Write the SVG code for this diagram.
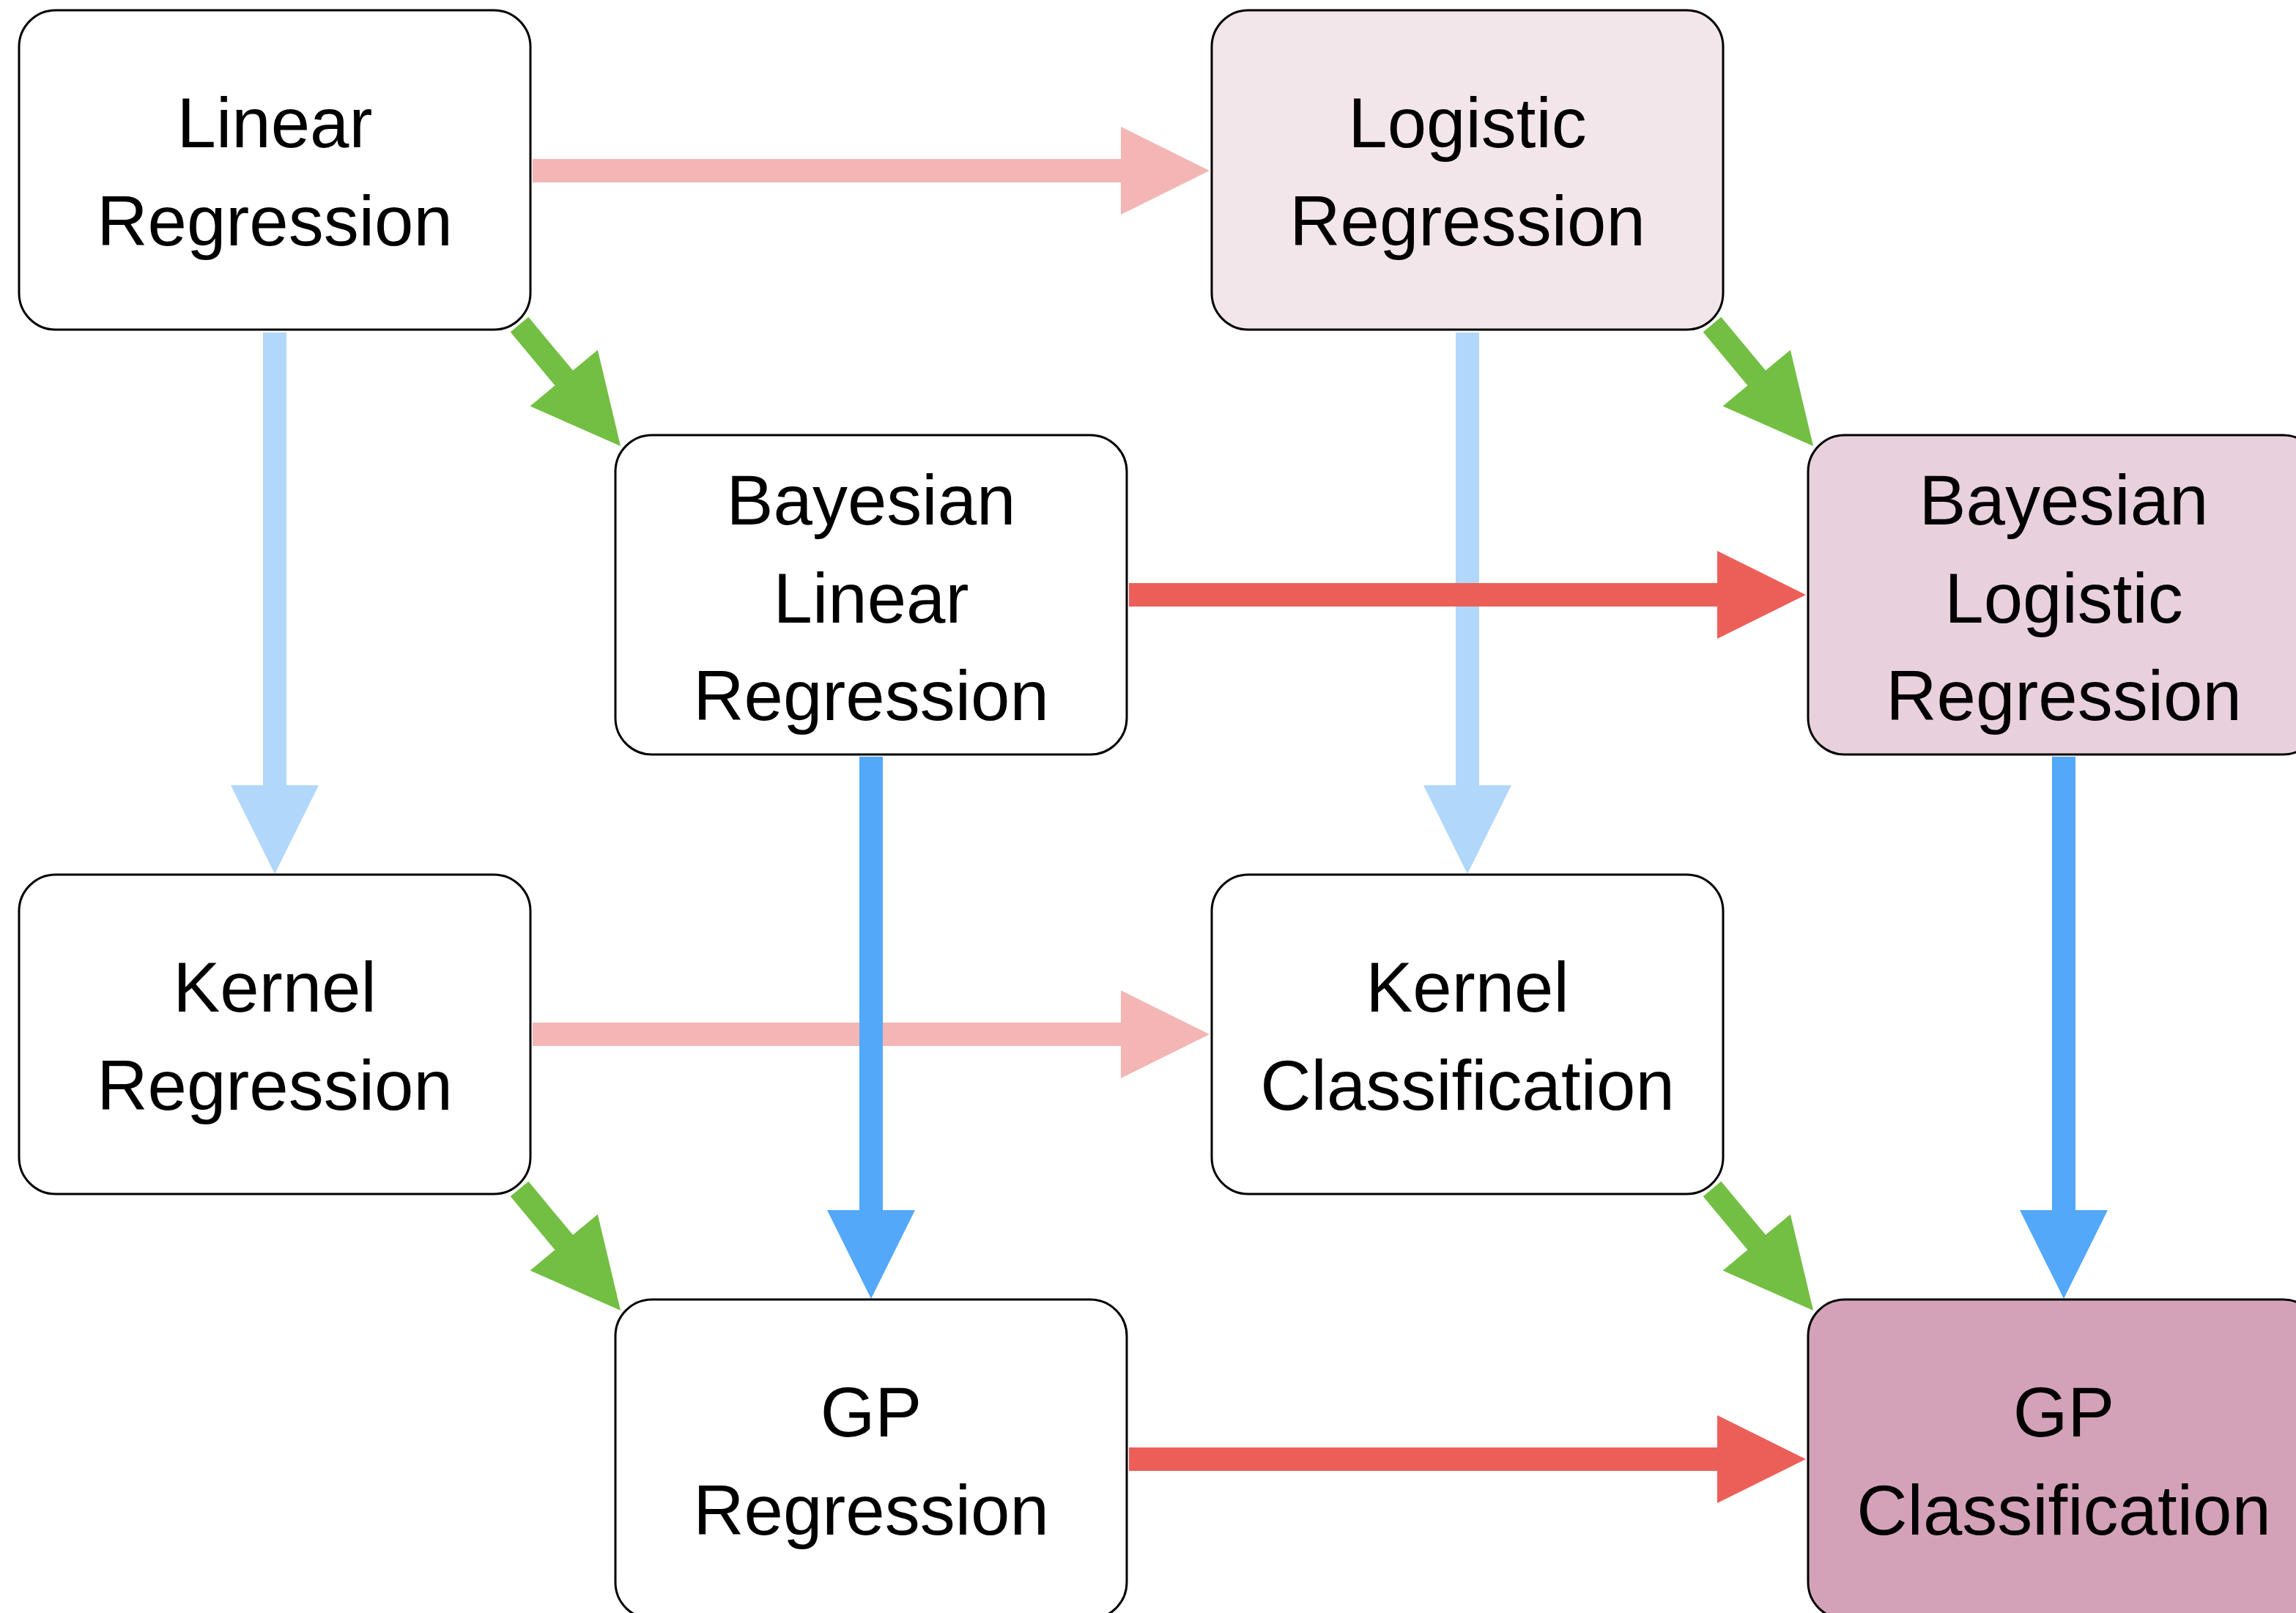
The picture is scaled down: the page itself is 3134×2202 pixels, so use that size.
<svg xmlns="http://www.w3.org/2000/svg" width="3134" height="2202" viewBox="0 0 3134 2202">
<style>
.node rect{stroke:#000;stroke-width:3}
.node text{font-family:"Liberation Sans",Arial,sans-serif;font-size:96px;fill:#000;text-anchor:middle}
.lred{fill:#f4b6b4}
.red{fill:#ec5f59}
.lblue{fill:#b1d7fb}
.blue{fill:#53a8fa}
.green{fill:#72bf44}
</style>
<defs>
<polygon id="gArrow" points="0,-16 95,-16 95,-60 216,0 95,60 95,16 0,16"/>
</defs>
<rect width="3134" height="2202" fill="#fff"/>
<g id="connectors">
<polygon class="lred" points="727,217 1530,217 1530,173 1651,233 1530,293 1530,249 727,249"/>
<polygon class="lred" points="727,1396 1530,1396 1530,1352 1651,1412 1530,1472 1530,1428 727,1428"/>
<polygon class="lblue" points="359,454 359,1072 315,1072 375,1193 435,1072 391,1072 391,454"/>
<polygon class="lblue" points="1987,454 1987,1072 1943,1072 2003,1193 2063,1072 2019,1072 2019,454"/>
<use href="#gArrow" class="green" transform="translate(709,443) rotate(50.26)"/>
<use href="#gArrow" class="green" transform="translate(2337,443) rotate(50.26)"/>
<use href="#gArrow" class="green" transform="translate(709,1623) rotate(50.26)"/>
<use href="#gArrow" class="green" transform="translate(2337,1623) rotate(50.26)"/>
<polygon class="red" points="1541,796 2344,796 2344,752 2465,812 2344,872 2344,828 1541,828"/>
<polygon class="red" points="1541,1976 2344,1976 2344,1932 2465,1992 2344,2052 2344,2008 1541,2008"/>
<polygon class="blue" points="1173,1033 1173,1652 1129,1652 1189,1773 1249,1652 1205,1652 1205,1033"/>
<polygon class="blue" points="2801,1033 2801,1652 2757,1652 2817,1773 2877,1652 2833,1652 2833,1033"/>
</g>
<g id="linear-regression" class="node">
<rect x="26" y="14" width="698" height="436" rx="50" fill="#fff"/>
<text x="375" y="201">Linear</text>
<text x="375" y="335">Regression</text>
</g>
<g id="logistic-regression" class="node">
<rect x="1654" y="14" width="698" height="436" rx="50" fill="#f3e6eb"/>
<text x="2003" y="201">Logistic</text>
<text x="2003" y="335">Regression</text>
</g>
<g id="bayesian-linear-regression" class="node">
<rect x="840" y="594" width="698" height="436" rx="50" fill="#fff"/>
<text x="1189" y="716">Bayesian</text>
<text x="1189" y="850">Linear</text>
<text x="1189" y="983">Regression</text>
</g>
<g id="bayesian-logistic-regression" class="node">
<rect x="2468" y="594" width="698" height="436" rx="50" fill="#e8d0dc"/>
<text x="2817" y="716">Bayesian</text>
<text x="2817" y="850">Logistic</text>
<text x="2817" y="983">Regression</text>
</g>
<g id="kernel-regression" class="node">
<rect x="26" y="1194" width="698" height="436" rx="50" fill="#fff"/>
<text x="375" y="1381">Kernel</text>
<text x="375" y="1515">Regression</text>
</g>
<g id="kernel-classification" class="node">
<rect x="1654" y="1194" width="698" height="436" rx="50" fill="#fff"/>
<text x="2003" y="1381">Kernel</text>
<text x="2003" y="1515">Classification</text>
</g>
<g id="gp-regression" class="node">
<rect x="840" y="1774" width="698" height="436" rx="50" fill="#fff"/>
<text x="1189" y="1961">GP</text>
<text x="1189" y="2095">Regression</text>
</g>
<g id="gp-classification" class="node">
<rect x="2468" y="1774" width="698" height="436" rx="50" fill="#d4a2b8"/>
<text x="2817" y="1961">GP</text>
<text x="2817" y="2095">Classification</text>
</g>
</svg>
